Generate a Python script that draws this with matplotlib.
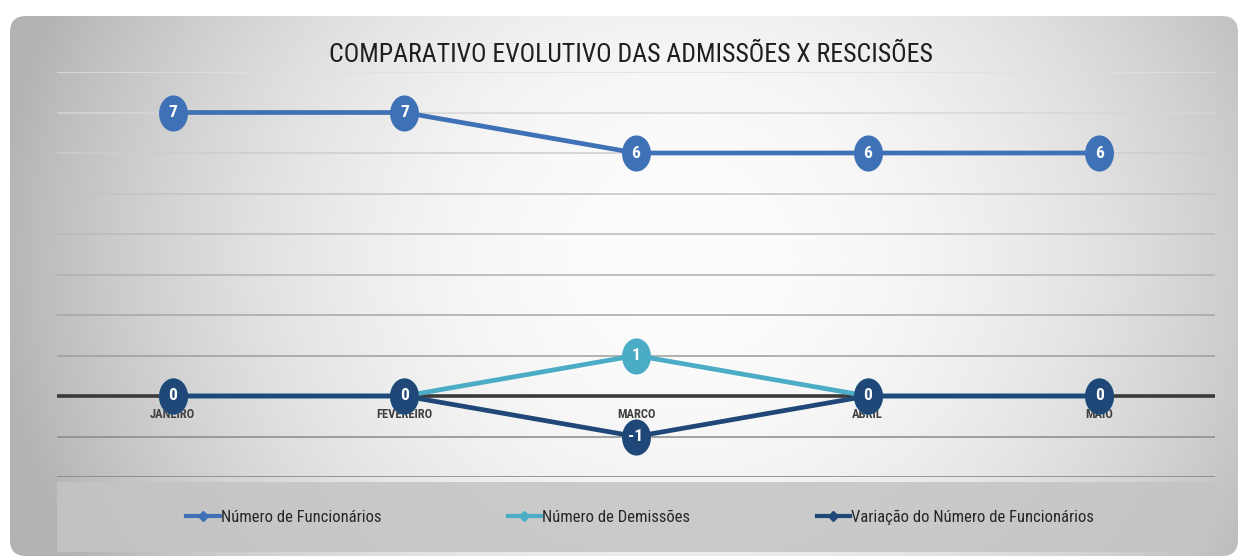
import numpy as np
import matplotlib
matplotlib.use("Agg")
import matplotlib.pyplot as plt
from matplotlib import font_manager
from matplotlib.path import Path
from matplotlib.patches import FancyBboxPatch, Rectangle
from matplotlib.lines import Line2D

# fonte estreita se houver
disponiveis = {f.name for f in font_manager.fontManager.ttflist}
narrow = None
for nome in ['Liberation Sans Narrow', 'Roboto Condensed', 'DejaVu Sans Condensed',
             'Open Sans Condensed', 'Noto Sans Condensed', 'Arial Narrow']:
    if nome in disponiveis:
        narrow = nome
        break
if narrow is None:
    narrow = 'Roboto' if 'Roboto' in disponiveis else 'DejaVu Sans'
plt.rcParams['font.family'] = [narrow, 'DejaVu Sans']

meses = ['JANEIRO', 'FEVEREIRO', 'MARCO', 'ABRIL', 'MAIO']
funcionarios = [7, 7, 6, 6, 6]
demissoes = [0, 0, 1, 0, 0]
variacao = [0, 0, -1, 0, 0]

nomes = ['Número de Funcionários', 'Número de Demissões', 'Variação do Número de Funcionários']
cores = ['#3F71B6', '#4BACC6', '#1F4878']

W, H = 1242, 560
fig = plt.figure(figsize=(W / 100, H / 100), dpi=100)
fig.patch.set_facecolor('white')

# fundo com gradiente dentro de um painel arredondado
bg = fig.add_axes([0, 0, 1, 1], zorder=-5)
bg.set_xlim(0, W)
bg.set_ylim(H, 0)
bg.axis('off')
xx, yy = np.meshgrid(np.arange(W), np.arange(H))
r2 = ((xx - 680) / 660.0) ** 2 + ((yy - 260) / 600.0) ** 2
val = np.clip(253 - 68 * r2, 178, 255) / 255.0
img = np.dstack([val, val, val])
im = bg.imshow(img, extent=(0, W, H, 0), interpolation='bilinear')
painel = FancyBboxPatch((10, 16), 1228, 540, boxstyle='round,pad=0,rounding_size=16',
                        transform=bg.transData, facecolor='none', edgecolor='none')
bg.add_patch(painel)
im.set_clip_path(painel)
bg.add_patch(Rectangle((57, 482), 1158, 70, facecolor='#c4c4c4', edgecolor='none', alpha=0.85))

ax = fig.add_axes([57 / W, 1 - 477 / H, 1158 / W, 405 / H])
ax.set_facecolor('none')
ax.set_xlim(-0.5, len(meses) - 0.5)
ax.set_ylim(-2, 8)
for s in ax.spines.values():
    s.set_visible(False)
ax.set_xticks([])
ax.set_yticks([])

# linhas de grade (mais claras em cima)
niveis = np.arange(-2, 9)
for lv in niveis:
    t = (lv + 2) / 10.0
    g = 0.50 + 0.38 * t
    ax.axhline(lv, color=(g, g, g), lw=1.1, zorder=1)
ax.axhline(0, color='#3a3a3a', lw=2.6, zorder=2)

x = np.arange(len(meses))
for i, m in enumerate(meses):
    ax.text(i, -0.3, m, ha='center', va='top', fontsize=9, fontweight='bold',
            color='#404040', zorder=2)

t = np.linspace(0, 2 * np.pi, 80)
elipse = Path(np.column_stack([0.8 * np.cos(t), np.sin(t)]))

series = [demissoes, variacao, funcionarios]
ordem = [1, 2, 0]
for k, (dados, idx) in enumerate(zip(series, ordem)):
    z = 4 + 2 * k
    ax.plot(x, dados, color=cores[idx], lw=3.4, zorder=z, solid_capstyle='round',
            marker=elipse, markersize=26, markeredgewidth=0, markerfacecolor=cores[idx])
    for xi, v in zip(x, dados):
        ax.text(xi, v, str(v), ha='center', va='center', color='white', fontsize=12.5,
                fontweight='bold', zorder=z + 1)

fig.text(631 / W, 1 - 55 / H, 'COMPARATIVO EVOLUTIVO DAS ADMISSÕES X RESCISÕES',
         ha='center', va='center', fontsize=18.5, color='#1e1e1e')

handles = [Line2D([], [], color=c, lw=3, marker='D', markersize=5) for c in cores]
leg = fig.legend(handles, nomes, loc='center', bbox_to_anchor=(640 / W, 1 - 517 / H),
                 ncol=3, frameon=False, fontsize=12, handlelength=2.0,
                 handletextpad=0.05, columnspacing=7.6)
for tx in leg.get_texts():
    tx.set_color('#262626')

fig.savefig('out.png', dpi=100)
